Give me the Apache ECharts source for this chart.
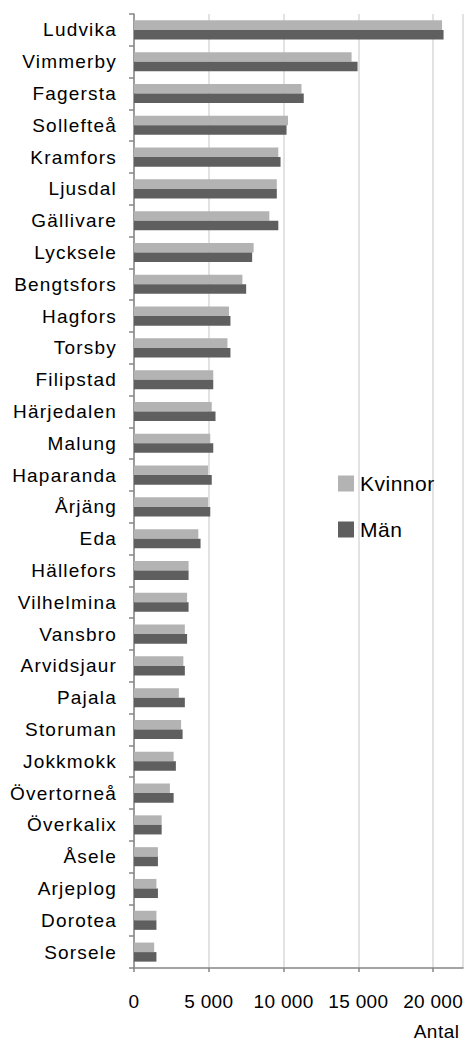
<!DOCTYPE html>
<html>
<head>
<meta charset="utf-8">
<script src="https://cdn.jsdelivr.net/npm/echarts@6/dist/echarts.min.js"></script>
<style>
  html, body { margin: 0; padding: 0; background: #fff; }
  #chart { width: 466px; height: 1043px; }
  /* slightly airy lettering, wider on the category names */
  #chart text { letter-spacing: 0.5px; }
  #chart text[text-anchor="end"] { letter-spacing: 1.2px; }
  #chart text[text-anchor="middle"] { letter-spacing: 0.3px; }
</style>
</head>
<body>
<div id="chart"></div>
<script>
// Kommuner, ordered from largest to smallest
const kommuner = [
  'Ludvika', 'Vimmerby', 'Fagersta', 'Sollefteå', 'Kramfors', 'Ljusdal',
  'Gällivare', 'Lycksele', 'Bengtsfors', 'Hagfors', 'Torsby', 'Filipstad',
  'Härjedalen', 'Malung', 'Haparanda', 'Årjäng', 'Eda', 'Hällefors',
  'Vilhelmina', 'Vansbro', 'Arvidsjaur', 'Pajala', 'Storuman', 'Jokkmokk',
  'Övertorneå', 'Överkalix', 'Åsele', 'Arjeplog', 'Dorotea', 'Sorsele'
];

// Antal kvinnor per kommun
const kvinnor = [
  20600, 14550, 11200, 10300, 9650, 9550,
  9050, 8000, 7250, 6350, 6250, 5300,
  5200, 5100, 4950, 4950, 4300, 3650,
  3550, 3400, 3300, 3000, 3150, 2650,
  2400, 1850, 1600, 1500, 1500, 1350
];

// Antal män per kommun
const man = [
  20700, 14950, 11350, 10200, 9800, 9550,
  9650, 7900, 7500, 6450, 6450, 5300,
  5450, 5300, 5200, 5100, 4450, 3650,
  3650, 3550, 3400, 3400, 3250, 2800,
  2650, 1850, 1600, 1600, 1500, 1500
];

const seriesNames = ['Kvinnor', 'Män'];
const xTicks = { min: 0, max: 22000, step: 5000 };

const FONT = '"Liberation Sans", Arial, sans-serif';
const AXIS_GRAY = '#868686';

function formatThousands(v) {
  return String(v).replace(/\B(?=(\d{3})+(?!\d))/g, ' ');
}

const chart = echarts.init(document.getElementById('chart'), null, { renderer: 'svg' });

chart.setOption({
  animation: false,
  backgroundColor: '#ffffff',
  textStyle: { fontFamily: FONT },
  grid: { left: 134, right: 3, top: 14, bottom: 75, containLabel: false },
  legend: {
    orient: 'vertical',
    left: 338,
    top: 473,
    padding: 0,
    itemWidth: 16,
    itemHeight: 16,
    itemGap: 25,
    icon: 'rect',
    textStyle: { fontFamily: FONT, fontSize: 21, color: '#000', padding: [0, 0, 0, 1] },
    data: seriesNames
  },
  xAxis: {
    type: 'value',
    min: xTicks.min,
    max: xTicks.max,
    interval: xTicks.step,
    axisLine: { show: true, lineStyle: { color: AXIS_GRAY, width: 1.5 } },
    axisTick: { show: true, length: 4, lineStyle: { color: AXIS_GRAY, width: 1.5 } },
    splitLine: { show: true, lineStyle: { color: '#d9d9d9', width: 1.5 } },
    axisLabel: {
      margin: 24,
      fontSize: 19,
      color: '#000',
      fontFamily: FONT,
      showMaxLabel: false,
      formatter: (v) => (v % xTicks.step === 0 ? formatThousands(v) : '')
    }
  },
  yAxis: {
    type: 'category',
    inverse: true,
    data: kommuner,
    boundaryGap: true,
    axisLine: { show: true, lineStyle: { color: AXIS_GRAY, width: 1.5 } },
    axisTick: { show: true, length: 5, inside: false, lineStyle: { color: AXIS_GRAY, width: 1.5 } },
    axisLabel: { margin: 17, fontSize: 19, color: '#000', fontFamily: FONT, interval: 0 }
  },
  graphic: [{
    type: 'text',
    right: 9,
    top: 1022,
    style: { text: 'Antal', font: '19px ' + FONT, fill: '#000' }
  }],
  series: [
    {
      name: seriesNames[0],
      type: 'bar',
      data: kvinnor,
      barGap: '0%',
      barCategoryGap: '40%',
      itemStyle: { color: '#b3b3b3' }
    },
    {
      name: seriesNames[1],
      type: 'bar',
      data: man,
      barGap: '0%',
      barCategoryGap: '40%',
      itemStyle: { color: '#5f5f5f' }
    }
  ]
});
</script>
</body>
</html>
